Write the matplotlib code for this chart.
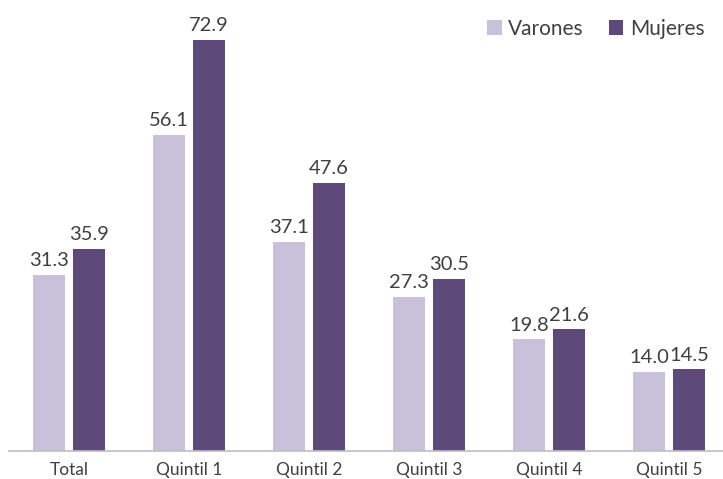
import numpy as np
import matplotlib
matplotlib.use("Agg")
import matplotlib.pyplot as plt

# ----------------------------------------------------
# Data
# ----------------------------------------------------

categories = ["Total", "Quintil 1", "Quintil 2", "Quintil 3", "Quintil 4", "Quintil 5"]
varones = [31.3, 56.1, 37.1, 27.3, 19.8, 14.0]
mujeres = [35.9, 72.9, 47.6, 30.5, 21.6, 14.5]

LIGHT = "#C9C0DA"
DARK = "#5E4A7A"
TEXT = "#404040"

plt.rcParams["font.family"] = ["Lato", "DejaVu Sans"]

fig = plt.figure(figsize=(7.23, 4.79), dpi=100)
ax = fig.add_axes([9 / 723, 28 / 479, 1 - 9 / 723, 451 / 479])

x = np.arange(len(categories))
width = 0.267
offset = 0.167

bars_v = ax.bar(x - offset, varones, width, color=LIGHT, label="Varones")
bars_m = ax.bar(x + offset, mujeres, width, color=DARK, label="Mujeres")

for bars, vals in [(bars_v, varones), (bars_m, mujeres)]:
    for b, v in zip(bars, vals):
        ax.text(b.get_x() + b.get_width() / 2, v + 1.0, f"{v:.1f}",
                ha="center", va="bottom", fontsize=14.5, color=TEXT)

ax.set_xlim(-0.5, 5.45)
ax.set_ylim(0, 80)
ax.set_xticks(x)
ax.set_xticklabels(categories, fontsize=12.5, color=TEXT)
ax.tick_params(axis="x", length=0, pad=8)
ax.set_yticks([])

for side in ["top", "right", "left"]:
    ax.spines[side].set_visible(False)
ax.spines["bottom"].set_color("#BFBFBF")
ax.spines["bottom"].set_linewidth(1.2)

leg = ax.legend(loc="upper right", bbox_to_anchor=(1.0, 1.0), frameon=False,
                ncol=2, fontsize=15, handlelength=0.7, handleheight=0.7,
                handletextpad=0.3, columnspacing=1.2)
for t in leg.get_texts():
    t.set_color(TEXT)

fig.savefig("out.png", dpi=100)
